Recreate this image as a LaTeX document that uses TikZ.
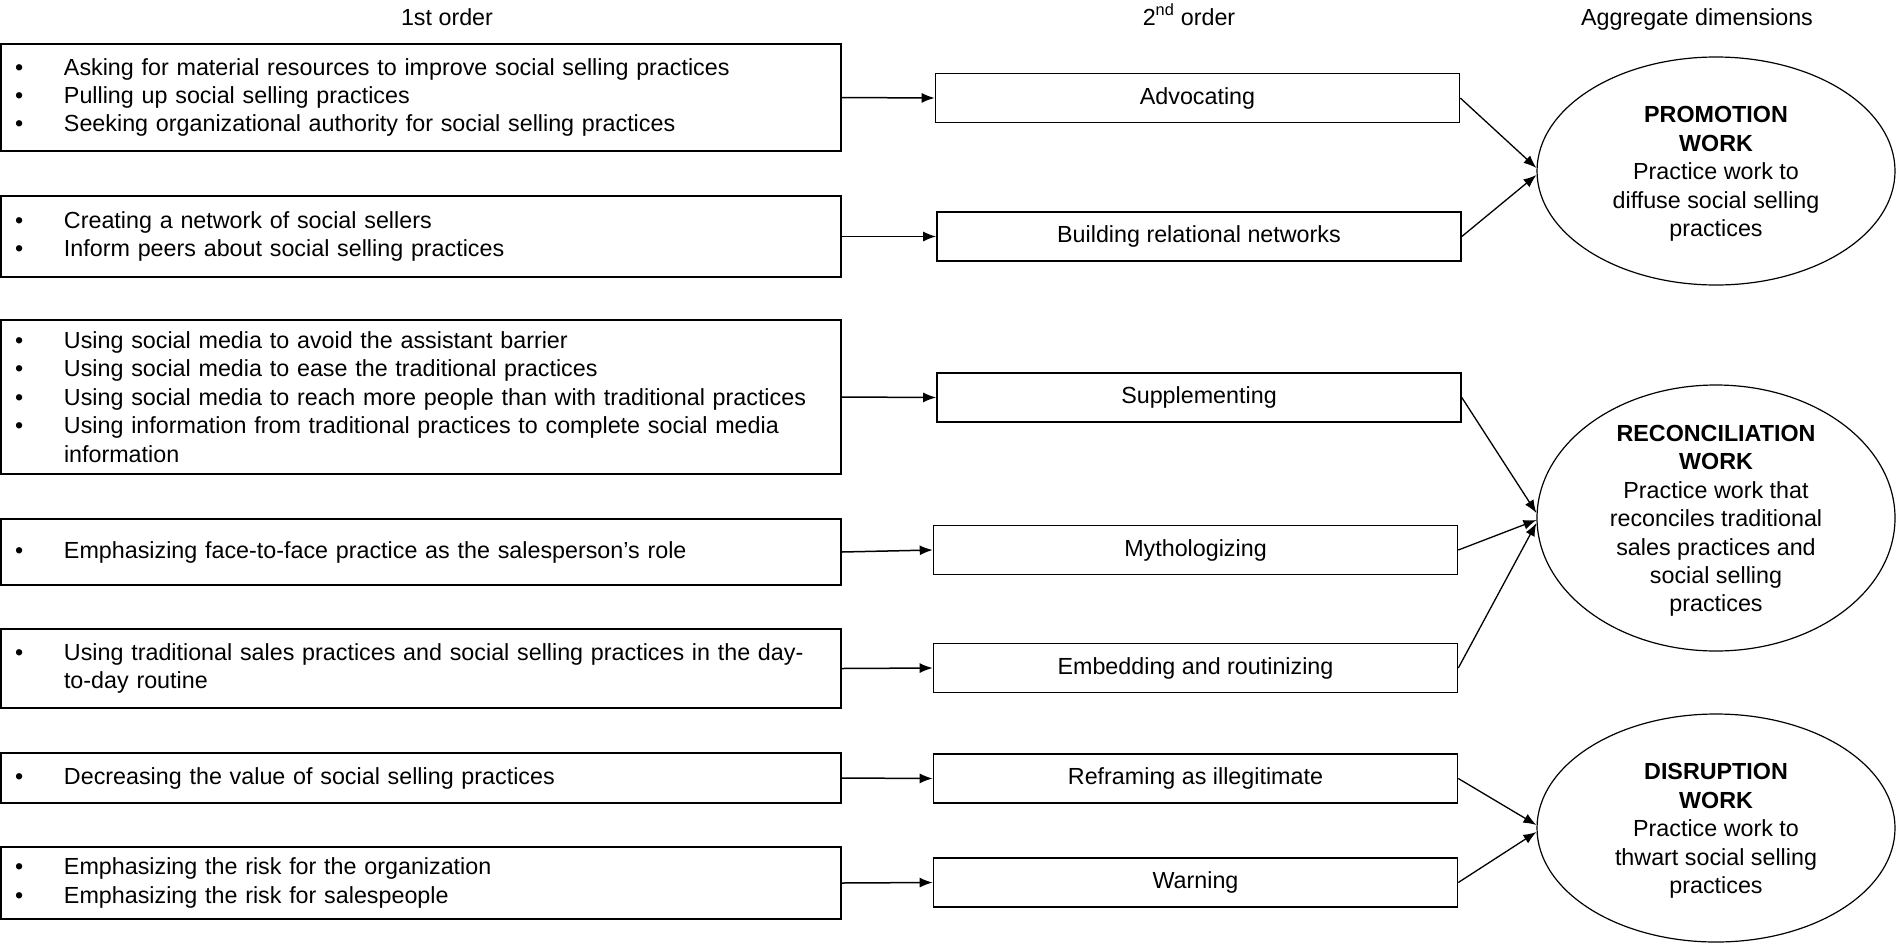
\documentclass[tikz,border=0pt]{standalone}
\usepackage{fontspec}
\setmainfont{Liberation Sans}
\usetikzlibrary{arrows.meta,shapes.geometric}
\newcommand{\bitem}[1]{\hspace*{14pt}\makebox[49pt][l]{•}#1}
\newcommand{\bcont}[1]{\hspace*{63pt}#1}
\begin{document}
\begin{tikzpicture}[x=1pt,y=-1pt,
  every node/.style={font=\fontsize{23.3}{28.4}\selectfont},
  firstbox/.style={draw,line width=1.6pt,text width=840pt,inner xsep=0pt,inner ysep=0pt,align=left},
  midbox/.style={draw,line width=1.6pt,minimum width=524pt,minimum height=49pt,inner sep=0pt},
  dimell/.style={draw,ellipse,line width=1.2pt,inner sep=0pt,minimum width=358pt},
  dimtext/.style={align=center,inner sep=0pt},
  header/.style={anchor=base,inner sep=0pt},
  harrow/.style={line width=1.5pt,-{Latex[length=13pt,width=10pt]}},
  darrow/.style={line width=1.3pt,-{Latex[length=13pt,width=10pt]}}
]
\useasboundingbox (0,0) rectangle (1897,943);

% headers
\node[header] (h1) at (447,25) {1st order};
\node[header] (h2) at (1189,25) {2\textsuperscript{nd} order};
\node[header] (h3) at (1697,25) {Aggregate dimensions};

% first-order boxes
\node[firstbox,minimum height=107pt] (l1) at (421,97.5) {\bitem{Asking for material resources to improve social selling practices}\\
\bitem{Pulling up social selling practices}\\
\bitem{Seeking organizational authority for social selling practices}};
\node[firstbox,minimum height=81pt] (l2) at (421,236.5) {\bitem{Creating a network of social sellers}\\
\bitem{Inform peers about social selling practices}};
\node[firstbox,minimum height=154pt] (l3) at (421,397) {\bitem{Using social media to avoid the assistant barrier}\\
\bitem{Using social media to ease the traditional practices}\\
\bitem{Using social media to reach more people than with traditional practices}\\
\bitem{Using information from traditional practices to complete social media}\\
\bcont{information}};
\node[firstbox,minimum height=66pt] (l4) at (421,552) {\bitem{Emphasizing face-to-face practice as the salesperson’s role}};
\node[firstbox,minimum height=79pt] (l5) at (421,668.5) {\bitem{Using traditional sales practices and social selling practices in the day-}\\
\bcont{to-day routine}};
\node[firstbox,minimum height=50pt] (l6) at (421,778) {\bitem{Decreasing the value of social selling practices}};
\node[firstbox,minimum height=72pt] (l7) at (421,883) {\bitem{Emphasizing the risk for the organization}\\
\bitem{Emphasizing the risk for salespeople}};

% second-order boxes
\node[midbox] (m1) at (1197.5,98) {Advocating};
\node[midbox] (m2) at (1199,236.5) {Building relational networks};
\node[midbox] (m3) at (1199,397.5) {Supplementing};
\node[midbox] (m4) at (1195.5,550) {Mythologizing};
\node[midbox] (m5) at (1195.5,668) {Embedding and routinizing};
\node[midbox] (m6) at (1195.5,778.5) {Reframing as illegitimate};
\node[midbox] (m7) at (1195.5,882.5) {Warning};

% aggregate dimensions
\node[dimell,minimum height=228pt] (e1) at (1716,171) {};
\node[dimtext] (t1) at ([yshift=-3pt]e1.center) {\textbf{PROMOTION}\\\textbf{WORK}\\Practice work to\\diffuse social selling\\practices};
\node[dimell,minimum height=266pt] (e2) at (1716,518) {};
\node[dimtext] (t2) at ([yshift=-3pt]e2.center) {\textbf{RECONCILIATION}\\\textbf{WORK}\\Practice work that\\reconciles traditional\\sales practices and\\social selling\\practices};
\node[dimell,minimum height=228pt] (e3) at (1716,828) {};
\node[dimtext] (t3) at ([yshift=-3pt]e3.center) {\textbf{DISRUPTION}\\\textbf{WORK}\\Practice work to\\thwart social selling\\practices};

% first -> second order arrows
\draw[harrow] (l1.east) -- (m1.west);
\draw[harrow] (l2.east) -- (m2.west);
\draw[harrow] (l3.east) -- (m3.west);
\draw[harrow] (l4.east) -- (m4.west);
\draw[harrow] (l5.east) -- (m5.west);
\draw[harrow] (l6.east) -- (m6.west);
\draw[harrow] (l7.east) -- (m7.west);

% second order -> aggregate arrows
\draw[darrow] (m1.east) -- ([yshift=3pt]e1.west);
\draw[darrow] (m2.east) -- ([yshift=-4pt]e1.west);
\draw[darrow] (m3.east) -- ([yshift=5pt]e2.west);
\draw[darrow] (m4.east) -- ([yshift=-2pt]e2.west);
\draw[darrow] (m5.east) -- ([yshift=-5pt]e2.west);
\draw[darrow] (m6.east) -- ([yshift=3pt]e3.west);
\draw[darrow] (m7.east) -- ([yshift=-4pt]e3.west);
\end{tikzpicture}
\end{document}
